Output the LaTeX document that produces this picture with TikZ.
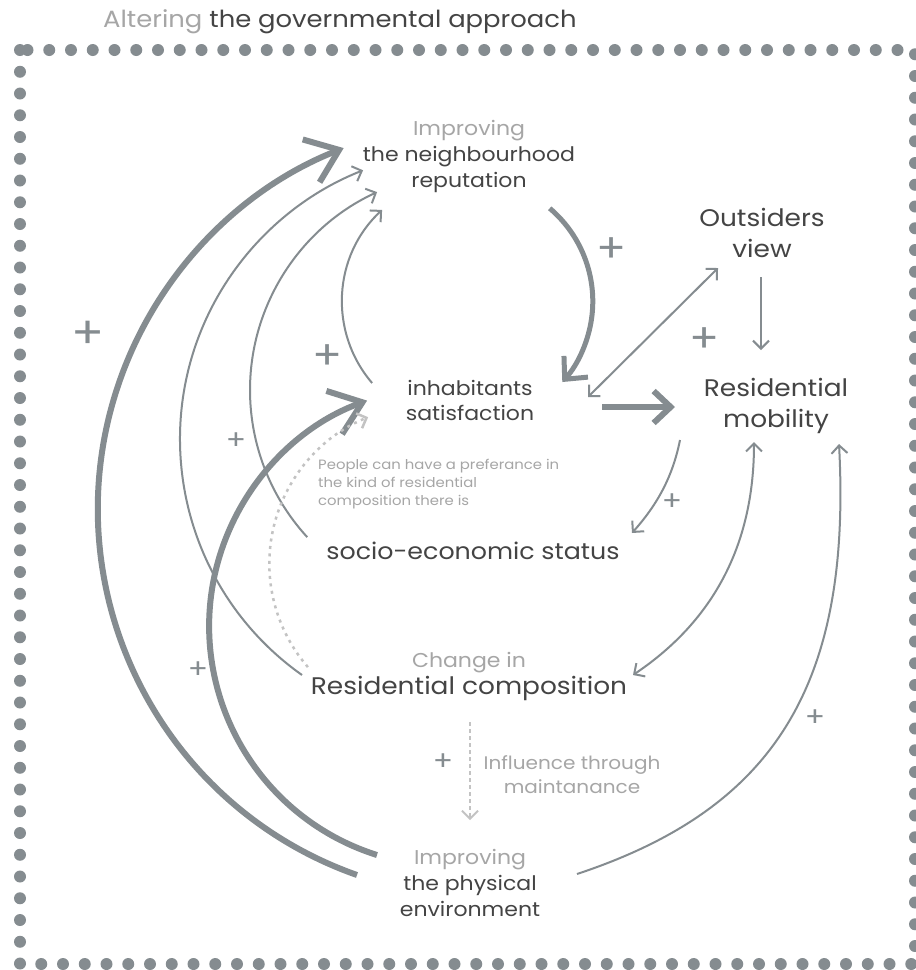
\documentclass[tikz,border=0pt]{standalone}
\usepackage{fontspec}
\setmainfont{Poppins}[FakeStretch=1.1]
\usetikzlibrary{arrows.meta}
\definecolor{lg}{RGB}{133,140,144}
\definecolor{dk}{RGB}{68,68,68}
\definecolor{lt}{RGB}{166,166,166}
\definecolor{dl}{RGB}{195,195,195}
\tikzset{
  BigTip/.tip={Straight Barb[length=30pt,width=46pt]},
  MedTip/.tip={Straight Barb[length=17pt,width=32pt]},
  ThinTip/.tip={Straight Barb[length=8pt,width=16pt]},
}
\begin{document}
\begin{tikzpicture}[x=1pt,y=1pt,
  thinline/.style={draw=lg, line width=2pt},
  thickline/.style={draw=lg, line width=6pt},
  medline/.style={draw=lg, line width=5pt},
  dashline/.style={draw=dl, line width=1.8pt, dash pattern=on 4pt off 3pt},
  dotline/.style={draw=dl, line width=2.5pt, dash pattern=on 3pt off 4.5pt},
  bigtext/.style={text=dk, font=\fontsize{24}{31}\selectfont, align=center, inner sep=0pt},
  midtext/.style={text=dk, font=\fontsize{20}{26}\selectfont, align=center, inner sep=0pt},
  notetext/.style={text=lt, font=\fontsize{13.5}{18}\selectfont, align=left, inner sep=0pt},
  inftext/.style={text=lt, font=\fontsize{18.2}{24}\selectfont, align=center, inner sep=0pt},
  plusbig/.style={text=lg, font=\fontsize{44}{44}\selectfont, inner sep=0pt},
  plusmid/.style={text=lg, font=\fontsize{40}{40}\selectfont, inner sep=0pt},
  plussmall/.style={text=lg, font=\fontsize{27}{27}\selectfont, inner sep=0pt},
]
\useasboundingbox (0,0) rectangle (916,-970);
\fill[white] (0,0) rectangle (916,-970);

% title
\node[anchor=base west, font=\fontsize{23.5}{26}\selectfont, inner sep=0pt] (title) at (103,-27)
  {\textcolor{lt}{Altering} \textcolor{dk}{the governmental approach}};

% dotted frame
\draw[lg, line width=12pt, line cap=round, dash pattern=on 0pt off 21.75pt] (20,-50) rectangle (915,-964);

% nodes
\node[midtext] (rep) at (469,-156) {\textcolor{lt}{Improving}\\the neighbourhood\\reputation};
\node[bigtext] (out) at (762,-233) {Outsiders\\view};
\node[bigtext] (mob) at (776,-406) {Residential\\mobility};
\node[midtext, font=\fontsize{20}{25}\selectfont] (sat) at (470,-400) {inhabitants\\satisfaction};
\node[bigtext, font=\fontsize{23}{31}\selectfont] (ses) at (473,-551) {socio-economic status};
\node[midtext, text=lt] (compa) at (469,-663) {Change in};
\node[bigtext] (comp) at (469,-688) {Residential composition};
\node[midtext] (phys) at (470,-883) {\textcolor{lt}{Improving}\\the physical\\environment};
\node[notetext, anchor=north west] (note) at (318,-459) {People can have a preferance in\\the kind of residential\\composition there is};
\node[inftext] (infl) at (572,-775) {Influence through\\maintanance};

% plus signs
\node[plusbig] (p1) at (88,-335) {+};
\node[plusmid] (p2) at (612,-250) {+};
\node[plusmid] (p3) at (705,-340) {+};
\node[plusmid] (p4) at (328,-357) {+};
\node[plussmall] (p5) at (236,-441) {+};
\node[plussmall] (p6) at (672,-502) {+};
\node[plussmall] (p7) at (198,-670) {+};
\node[plussmall] (p8) at (815,-718) {+};
\node[plussmall] (p9) at (443,-762) {+};

% coordinates
\coordinate (oA) at (357,-875);
\coordinate (iA) at (377,-855);
\coordinate (aA) at (302,-675);
\coordinate (bA) at (307.2,-537.1);
\coordinate (cA) at (372.1,-383);
\coordinate (rs) at (549.7,-208.3);
\coordinate (dA) at (307.9,-667.1);
\coordinate (d1) at (588,-397);
\coordinate (d2) at (718,-268);
\coordinate (ov1) at (761,-277);
\coordinate (ov2) at (761,-350);
\coordinate (sm1) at (602,-407);
\coordinate (sm2) at (675,-407);
\coordinate (ms1) at (680,-440);
\coordinate (ms2) at (632,-533);
\coordinate (mc1) at (754,-442);
\coordinate (mc2) at (633,-675);
\coordinate (pm1) at (577,-874);
\coordinate (pm2) at (839,-444);
\coordinate (v1) at (470,-722);
\coordinate (v2) at (470,-820);

% big thick arcs
\draw[thickline, -{BigTip}] (oA) arc[start angle=250.6, end angle=111.5, radius=388pt];
\draw[thickline, -{BigTip}] (iA) arc[start angle=252.5, end angle=110, radius=240pt];
% thin arcs to reputation
\draw[thinline, -{ThinTip}] (aA) arc[start angle=234.7, end angle=111.5, radius=289pt];
\draw[thinline, -{ThinTip}] (bA) arc[start angle=222.5, end angle=114.6, radius=217.7pt];
\draw[thinline, -{ThinTip}] (cA) arc[start angle=220.6, end angle=132.8, radius=125pt];
% reputation -> satisfaction
\draw[medline, -{MedTip}] (rs) arc[start angle=49.7, end angle=-41.4, radius=122pt];
% dotted composition -> satisfaction
\draw[dotline, -{ThinTip}] (dA) arc[start angle=220.9, end angle=112, radius=158pt];
% straight ones
\draw[thinline, {ThinTip}-{ThinTip}] (d1) -- (d2);
\draw[thinline, -{ThinTip}] (ov1) -- (ov2);
\draw[thickline, -{MedTip}] (sm1) -- (sm2);
\draw[thinline, -{ThinTip}] (ms1) .. controls (672,-480) and (655,-507) .. (ms2);
\draw[thinline, {ThinTip}-{ThinTip}] (mc1) .. controls (754,-560) and (700,-630) .. (mc2);
\draw[thinline, -{ThinTip}] (pm1) .. controls (770,-810) and (852,-690) .. (pm2);
\draw[dashline, -{ThinTip}] (v1) -- (v2);
\end{tikzpicture}
\end{document}
